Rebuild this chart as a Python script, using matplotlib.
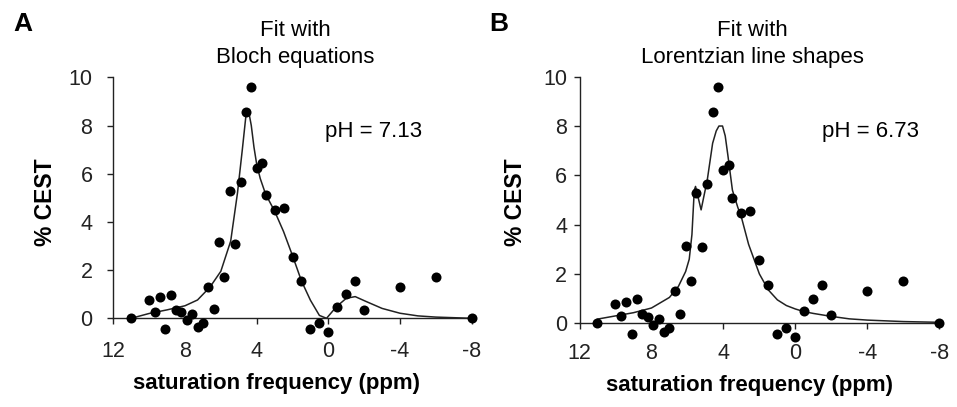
import matplotlib
matplotlib.use("Agg")
import matplotlib.pyplot as plt

plt.rcParams['font.family'] = ['Liberation Sans', 'DejaVu Sans']

# ---- data (shared measurements) ----
freq_ppm = [11.0, 10.0, 9.7, 9.4, 9.1, 8.8, 8.5, 8.2, 7.9, 7.6, 7.3, 7.0, 6.7, 6.4,
            6.1, 5.8, 5.5, 5.2, 4.9, 4.6, 4.3, 4.0, 3.7, 3.5, 3.0, 2.5, 2.0, 1.5,
            1.0, 0.5, 0.0, -0.5, -1.0, -1.5, -2.0, -4.0, -6.0, -8.0]
cest = [0.03, 0.77, 0.28, 0.88, -0.45, 0.97, 0.36, 0.26, -0.07, 0.16, -0.37, -0.21,
        1.31, 0.39, 3.15, 1.71, 5.28, 3.09, 5.65, 8.55, 9.6, 6.22, 6.43, 5.1, 4.49,
        4.57, 2.56, 1.55, -0.43, -0.21, -0.55, 0.48, 1.0, 1.55, 0.33, 1.3, 1.73, 0.03]

# Bloch fit (panel A)
bloch_x = [11.0, 10.0, 9.0, 8.0, 7.3, 6.6, 6.0, 5.45, 5.07, 4.8, 4.6, 4.45, 4.3, 4.15,
           4.0, 3.8, 3.5, 3.0, 2.5, 2.0, 1.5, 1.0, 0.5, 0.1, -0.45, -1.0, -1.5, -2.1,
           -3.0, -4.0, -5.0, -6.0, -8.0]
bloch_y = [0.0, 0.2, 0.35, 0.52, 0.76, 1.3, 1.95, 3.2, 5.2, 7.0, 8.4, 8.6, 8.0, 7.1,
           6.4, 5.8, 5.15, 4.45, 3.6, 2.6, 1.55, 0.75, 0.12, 0.0, 0.48, 0.83, 0.9, 0.7,
           0.41, 0.21, 0.1, 0.05, 0.0]

# Lorentzian fit (panel B)
lor_x = [11.0, 10.0, 9.0, 8.0, 7.0, 6.5, 6.1, 5.9, 5.75, 5.62, 5.55, 5.24, 5.1, 4.9,
         4.6, 4.4, 4.25, 4.05, 3.9, 3.75, 3.5, 3.2, 3.0, 2.6, 2.0, 1.5, 1.0, 0.5, 0.0,
         -0.5, -1.0, -2.0, -3.0, -4.0, -6.0, -8.0]
lor_y = [0.17, 0.3, 0.43, 0.62, 1.05, 1.5, 2.1, 2.6, 3.6, 5.4, 5.55, 4.6, 5.1, 5.8,
         7.3, 7.8, 8.0, 8.0, 7.6, 6.8, 5.4, 4.7, 4.3, 3.2, 2.0, 1.35, 0.95, 0.72, 0.58,
         0.47, 0.4, 0.28, 0.18, 0.13, 0.07, 0.04]

xticks = [12, 8, 4, 0, -4, -8]
yticks = [0, 2, 4, 6, 8, 10]

W, H = 957, 407
fig = plt.figure(figsize=(W / 100, H / 100), dpi=100)


def px(x, y):
    return x / W, 1 - y / H


def make_axes(left, right, y0, y10, fit_x, fit_y, xpad, ypad):
    unit = (y0 - y10) / 10.0
    bottom = y0 + unit * 1.0
    ax = fig.add_axes([left / W, 1 - bottom / H, (right - left) / W, (bottom - y10) / H])
    ax.set_xlim(12, -8)
    ax.set_ylim(-1, 10)
    for s in ['top', 'right']:
        ax.spines[s].set_visible(False)
    ax.spines['bottom'].set_position(('data', 0))
    ax.spines['left'].set_bounds(0, 10)
    for s in ['bottom', 'left']:
        ax.spines[s].set_linewidth(1.0)
        ax.spines[s].set_color('#222222')
    ax.set_xticks(xticks)
    ax.set_xticklabels([str(t) for t in xticks])
    ax.set_yticks(yticks)
    ax.tick_params(axis='x', direction='out', length=4, width=1.0, pad=xpad,
                   labelsize=15.5, colors='#222222')
    ax.tick_params(axis='y', direction='out', length=4, width=1.0, pad=ypad,
                   labelsize=15.5, colors='#222222')
    ax.plot(fit_x, fit_y, color='#222222', lw=1.1, clip_on=False, zorder=2)
    ax.scatter(freq_ppm, cest, s=52, color='black', zorder=3, clip_on=False,
               linewidths=0)
    ax.patch.set_alpha(0)
    return ax


axA = make_axes(113.3, 471.7, 318.3, 77.3, bloch_x, bloch_y, 12.5, 11)
axB = make_axes(579.5, 939.3, 323.3, 76.7, lor_x, lor_y, 10.5, 5)

# Titles
fig.text(*px(295.5, 30), 'Fit with', ha='center', va='center', fontsize=16)
fig.text(*px(295.5, 58), 'Bloch equations', ha='center', va='center', fontsize=16)
fig.text(*px(752, 30), 'Fit with', ha='center', va='center', fontsize=16)
fig.text(*px(752, 58), 'Lorentzian line shapes', ha='center', va='center', fontsize=16)

# Panel letters
fig.text(*px(23, 24), 'A', ha='center', va='center', fontsize=19, fontweight='bold')
fig.text(*px(499, 24), 'B', ha='center', va='center', fontsize=19, fontweight='bold')

# pH annotations
fig.text(*px(374, 131.7), 'pH = 7.13', ha='center', va='center', fontsize=16)
fig.text(*px(871, 131.7), 'pH = 6.73', ha='center', va='center', fontsize=16)

# Axis labels
fig.text(*px(276.5, 383), 'saturation frequency (ppm)', ha='center', va='center',
         fontsize=16, fontweight='bold')
fig.text(*px(750, 386), 'saturation frequency (ppm)', ha='center', va='center',
         fontsize=16, fontweight='bold')
fig.text(*px(46, 202), '% CEST', ha='center', va='center', rotation=90,
         fontsize=16.5, fontweight='bold')
fig.text(*px(516, 202), '% CEST', ha='center', va='center', rotation=90,
         fontsize=16.5, fontweight='bold')

fig.savefig('out.png', dpi=100)
